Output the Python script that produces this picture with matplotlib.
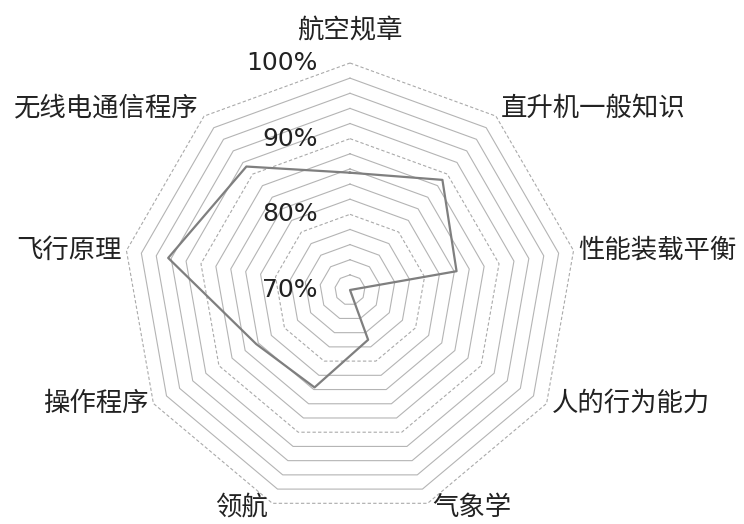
import numpy as np
import matplotlib
matplotlib.use("Agg")
import matplotlib.pyplot as plt

plt.rcParams['font.family'] = ['Noto Sans CJK SC', 'DejaVu Sans']

categories = ["航空规章", "直升机一般知识", "性能装载平衡", "人的行为能力", "气象学",
              "领航", "操作程序", "飞行原理", "无线电通信程序"]
values = [85.5, 89.0, 84.3, 70.0, 77.0, 83.7, 84.3, 94.4, 91.3]
ring_levels = list(range(72, 101, 2))
tick_levels = [70, 80, 90, 100]
tick_labels = ["70%", "80%", "90%", "100%"]
r_min = 70

W, H = 744, 524
cx, cy = 350, 290          # centre in pixels (from top-left)
scale = 227 / 30           # pixels per percent

fig = plt.figure(figsize=(W / 100, H / 100), dpi=100)
ax = fig.add_axes([0, 0, 1, 1])
ax.set_xlim(-cx / scale, (W - cx) / scale)
ax.set_ylim(-(H - cy) / scale, cy / scale)
ax.axis('off')

n = len(categories)
ang = np.deg2rad(np.arange(n) * 360 / n)  # clockwise from top

def xy(r, a):
    return r * np.sin(a), r * np.cos(a)

# grid rings
for lv in ring_levels:
    r = lv - r_min
    a = np.append(ang, ang[0])
    x, y = xy(r, a)
    if lv % 10 == 0:
        ax.plot(x, y, color='#aaaaaa', lw=0.8, ls=(0, (3, 2)), zorder=1)
    else:
        ax.plot(x, y, color='#b4b4b4', lw=0.8, zorder=1)

# data
v = np.array(values) - r_min
a = np.append(ang, ang[0])
x, y = xy(np.append(v, v[0]), a)
ax.plot(x, y, color='#7f7f7f', lw=1.6, zorder=3)

# radial tick labels
for lv, lab in zip(tick_levels, tick_labels):
    ax.text(-32 / scale, lv - r_min, lab, ha='right', va='center',
            fontsize=18, color='#222222', family=['DejaVu Sans'], zorder=4)

# category labels
R = 30
for i, (c, t) in enumerate(zip(categories, ang)):
    px, py = xy(R, t)
    s = np.sin(t)
    off = 5 / scale
    if abs(s) < 1e-6:
        ax.text(px, py + 32 / scale, c, ha='center', va='center', fontsize=19, color='#222222')
    else:
        ha = 'left' if s > 0 else 'right'
        dy = 0
        if np.cos(t) > 0.5:
            dy = 8 / scale
        elif np.cos(t) < -0.9:
            dy = -4 / scale
        ax.text(px + np.sign(s) * off, py + dy, c, ha=ha, va='center', fontsize=19, color='#222222')

fig.savefig("out.png", dpi=100)
